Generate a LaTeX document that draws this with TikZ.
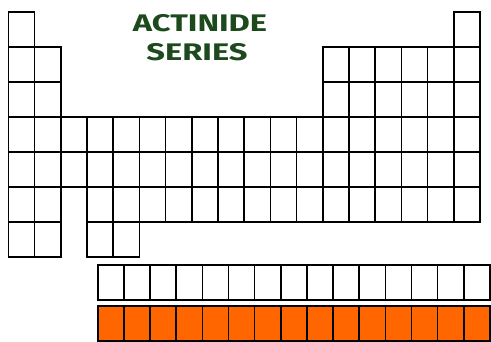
\documentclass[tikz,border=0pt]{standalone}
\usepackage{fontspec}
\newfontfamily\titlefont{Fira Sans}
\definecolor{titlegreen}{RGB}{28,74,28}
\definecolor{actorange}{RGB}{255,102,0}
\newcommand\tcell[2]{\draw[cell] ({8.3+(#1-1)*26.2},{11.7+(#2-1)*35}) rectangle ++(26.2,35);}
\newcommand\wide[1]{\scalebox{1.36}[1]{#1}}
\begin{document}
\begin{tikzpicture}
[x=1pt, y=-1pt, cell/.style={draw=black, line width=1.6pt},
title/.style={text=titlegreen, inner sep=0pt, font=\titlefont\bfseries\fontsize{24}{24}\selectfont}]
\useasboundingbox (0,0) rectangle (491,341);
\node[title] (actinide) at (200,23.5) {\wide{ACTINIDE}};
\node[title] (series) at (197,52.5) {\wide{SERIES}};

% main table
\tcell{1}{1} \tcell{18}{1}
\foreach \r in {2,3} {\foreach \c in {1,2,13,14,...,18} {\tcell{\c}{\r}}}
\foreach \r in {4,5} {\foreach \c in {1,...,18} {\tcell{\c}{\r}}}
\foreach \c in {1,2,4,5,...,18} {\tcell{\c}{6}}
\foreach \c in {1,2,4,5} {\tcell{\c}{7}}

% lanthanides and actinides
\foreach \c in {0,...,14} {
  \draw[cell] ({97.7+\c*26.15},265) rectangle ++(26.15,35);
  \draw[cell, fill=actorange] ({97.7+\c*26.15},306) rectangle ++(26.15,35);
}
\end{tikzpicture}
\end{document}
